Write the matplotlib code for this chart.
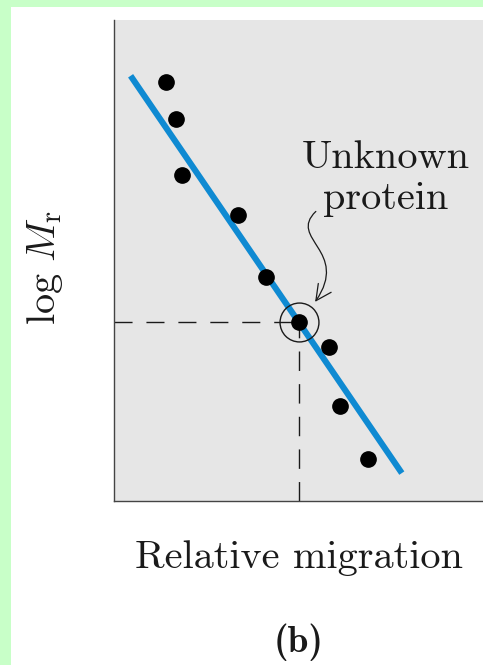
import matplotlib

matplotlib.use("Agg")
import matplotlib.pyplot as plt
from matplotlib.patches import FancyArrowPatch, Rectangle
from matplotlib.path import Path

# values (axes fractions: 0..1 on both axes)
known_migration = [0.141, 0.168, 0.185, 0.335, 0.411, 0.583, 0.612, 0.689]
known_log_mr = [0.872, 0.794, 0.678, 0.595, 0.466, 0.321, 0.198, 0.087]
unknown_migration = 0.500
unknown_log_mr = 0.372
fit_migration = [0.045, 0.780]
fit_log_mr = [0.884, 0.058]

# curved pointer from the label to the unknown protein
arrow_verts = [(0.547, 0.602), (0.47, 0.545), (0.64, 0.52), (0.545, 0.414)]

GREEN = "#c8ffc8"
PANEL = "#e6e6e6"
BLUE = "#0f8ad2"
INK = "#1a1a1a"
FONT = "cmr10"

plt.rcParams["mathtext.fontset"] = "cm"

fig = plt.figure(figsize=(4.83, 6.65), dpi=100, facecolor=GREEN)
fig.patches.append(
    Rectangle((11 / 483, 0), 1.0, 658 / 665, transform=fig.transFigure,
              facecolor="white", edgecolor="none", zorder=-10)
)

ax = fig.add_axes([114 / 483, 164 / 665, 369 / 483, 481 / 665])
ax.set_facecolor(PANEL)
ax.set_xlim(0, 1)
ax.set_ylim(0, 1)
ax.set_xticks([])
ax.set_yticks([])
for side in ("top", "right"):
    ax.spines[side].set_visible(False)
for side in ("left", "bottom"):
    ax.spines[side].set_color("#444444")
    ax.spines[side].set_linewidth(1.0)

# dashed read-off lines
ax.plot([0, unknown_migration], [unknown_log_mr, unknown_log_mr],
        color=INK, lw=1.0, dashes=(13, 10), zorder=2, clip_on=False)
ax.plot([unknown_migration, unknown_migration], [0, unknown_log_mr],
        color=INK, lw=1.0, dashes=(14, 9.5), zorder=2, clip_on=False)

ax.plot(fit_migration, fit_log_mr, color=BLUE, lw=4.4, solid_capstyle="butt", zorder=3)

ax.plot(known_migration, known_log_mr, "o", color="black", ms=11, zorder=4)
ax.plot([unknown_migration], [unknown_log_mr], "o", color="black", ms=11, zorder=4)
ax.plot([unknown_migration], [unknown_log_mr], "o", mfc="none", mec=INK,
        mew=1.0, ms=28, zorder=5)

codes = [Path.MOVETO, Path.CURVE4, Path.CURVE4, Path.CURVE4]
arrow = FancyArrowPatch(path=Path(arrow_verts, codes),
                        arrowstyle="->,head_length=0.7,head_width=0.35",
                        mutation_scale=16, color=INK, lw=0.9,
                        transform=ax.transData, zorder=6)
ax.add_patch(arrow)

ax.text(0.737, 0.692, "Unknown", ha="center", va="baseline",
        fontsize=29, fontfamily=FONT, color=INK)
ax.text(0.737, 0.607, "protein", ha="center", va="baseline",
        fontsize=29, fontfamily=FONT, color=INK)

fig.text(299 / 483, 97 / 665, "Relative migration", ha="center", va="baseline",
         fontsize=29, fontfamily=FONT, color=INK)
fig.text(45 / 483, 397 / 665, r"$\log\,M_\mathrm{r}$", ha="center", va="center",
         rotation=90, fontsize=29, color=INK)
fig.text(299 / 483, 13 / 665, "(b)", ha="center", va="baseline",
         fontsize=27, fontfamily="cmb10", color=INK)

fig.savefig("out.png", dpi=100, facecolor=GREEN)
